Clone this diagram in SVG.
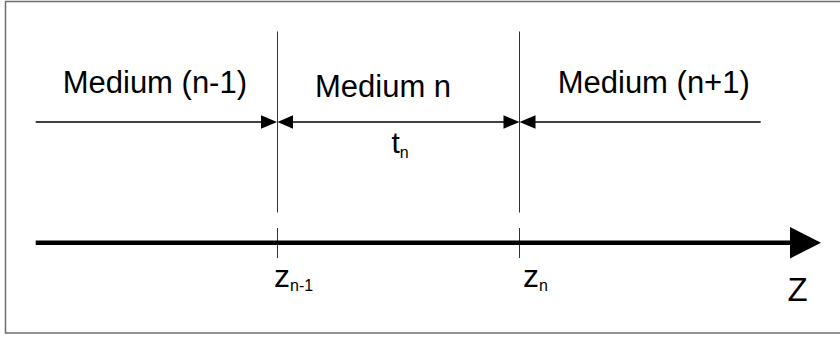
<svg xmlns="http://www.w3.org/2000/svg" width="840" height="337" viewBox="0 0 840 337">
<style>
text{font-family:"Liberation Sans",Arial,sans-serif;fill:#000}
.lbl{font-size:31px}
.iface{stroke:#333;stroke-width:1;fill:none}
.dim{stroke:#000;stroke-width:1.5;fill:none}
.ah{fill:#000}
.sym{font-size:32px}
.sub{font-size:16px}
</style>
<rect x="5.5" y="1.5" width="840" height="331.5" fill="#fff" stroke="#6e6e6e" stroke-width="1.5"/>
<g id="medium-prev"><text class="lbl" x="62.7" y="92.7">Medium (n-1)</text></g>
<g id="medium-n"><text class="lbl" x="315" y="96.7">Medium n</text></g>
<g id="medium-next"><text class="lbl" x="557.7" y="92.7">Medium (n+1)</text></g>
<g id="iface-1">
<line class="iface" x1="277.5" y1="31.5" x2="277.5" y2="212.5"/>
<line class="iface" x1="277.5" y1="228" x2="277.5" y2="258"/>
<text class="sym" x="274" y="286.7">z<tspan class="sub" dy="4">n-1</tspan></text>
</g>
<g id="iface-2">
<line class="iface" x1="519.5" y1="31.5" x2="519.5" y2="212.5"/>
<line class="iface" x1="519.5" y1="228" x2="519.5" y2="258"/>
<text class="sym" x="523" y="286.7">z<tspan class="sub" dy="4">n</tspan></text>
</g>
<g id="connectors">
<line class="dim" x1="35.7" y1="122" x2="262" y2="122"/>
<polygon class="ah" points="261,115.3 277,122 261,128.7"/>
<line class="dim" x1="292" y1="122" x2="504" y2="122"/>
<polygon class="ah" points="293,115.3 277.5,122 293,128.7"/>
<polygon class="ah" points="503.5,115.3 519.5,122 503.5,128.7"/>
<line class="dim" x1="534" y1="122" x2="760.7" y2="122"/>
<polygon class="ah" points="535.5,115.3 519.5,122 535.5,128.7"/>
<line stroke="#000" stroke-width="4.5" x1="35.7" y1="242.7" x2="792" y2="242.7"/>
<polygon class="ah" points="790,227 821,242.7 790,258.5"/>
</g>
<g id="thickness"><text x="391.5" y="153.3" style="font-size:30px">t<tspan class="sub" dy="5">n</tspan></text></g>
<g id="axis-label"><text x="787.5" y="301" style="font-size:33px">Z</text></g>
</svg>
